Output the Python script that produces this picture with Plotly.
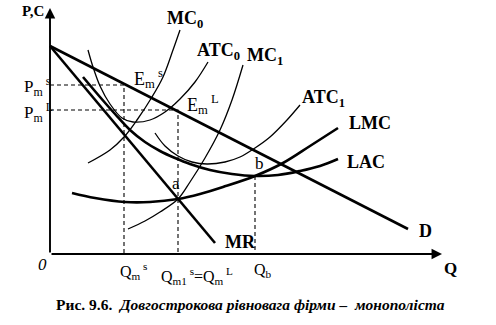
import plotly.graph_objects as go

# Long-run equilibrium of a monopoly firm (schematic cost/revenue curves)
# Units: Q along the horizontal axis, P/C along the vertical axis.

demand_q = [0.0, 35.8]
demand_p = [20.8, 2.5]

mr_q = [0.0, 16.5]
mr_p = [20.8, 1.1]

mc0_q = [3.8, 6.0, 7.4, 8.7, 10.2, 11.3, 12.3, 13.0]
mc0_p = [9.1, 10.4, 11.7, 13.4, 15.7, 17.7, 20.4, 22.4]

atc0_q = [3.8, 4.3, 5.0, 6.0, 7.2, 8.3, 10.0, 11.5, 13.0, 14.5, 15.8]
atc0_p = [20.4, 18.7, 16.8, 15.0, 13.6, 13.2, 13.4, 14.2, 15.5, 17.2, 19.2]

mc1_q = [7.8, 9.5, 11.0, 12.8, 14.0, 15.5, 17.0, 18.2, 19.3]
mc1_p = [2.5, 3.3, 4.2, 5.5, 7.2, 9.6, 12.4, 15.4, 18.9]

atc1_q = [10.5, 11.5, 12.8, 14.2, 15.7, 17.5, 19.0, 20.5, 22.0, 23.7, 25.0]
atc1_p = [12.1, 10.8, 9.8, 9.2, 9.0, 9.2, 9.7, 10.6, 11.7, 13.4, 14.9]

lac_q = [3.3, 5.0, 6.5, 8.0, 9.5, 11.0, 12.5, 14.0, 16.0, 18.2, 20.5, 22.8, 25.0, 27.0, 28.8]
lac_p = [17.7, 15.7, 14.0, 12.4, 11.2, 10.3, 9.6, 9.0, 8.4, 8.0, 7.8, 7.9, 8.3, 8.8, 9.5]

lmc_q = [2.2, 4.5, 7.5, 10.0, 12.8, 15.0, 17.3, 20.5, 23.3, 26.0, 28.8]
lmc_p = [6.1, 5.6, 5.2, 5.2, 5.5, 6.0, 6.7, 7.8, 9.1, 10.8, 12.6]

# equilibrium quantities and prices
q_ms, p_ms = 7.4, 16.9     # short-run monopoly optimum
q_ml, p_ml = 12.8, 14.4    # long-run monopoly optimum
q_b, p_b = 20.5, 7.8       # minimum of LAC
p_a = 5.5                  # LMC = MC1 = MR

q_max, p_max = 39.2, 24.6  # axis arrow tips

FONT = "Liberation Serif"
INK = "black"

fig = go.Figure()


def curve(q, p, width, dash=None, spline=True):
    fig.add_trace(go.Scatter(
        x=q, y=p, mode="lines", hoverinfo="skip", showlegend=False,
        line=dict(color=INK, width=width, dash=dash,
                  shape="spline" if spline else "linear", smoothing=1.0),
    ))


# dashed guide lines
guide = "4px,3px"
curve([0, q_ms, q_ms], [p_ms, p_ms, 0], 1.1, guide, spline=False)
curve([0, q_ml, q_ml], [p_ml, p_ml, 0], 1.1, guide, spline=False)
curve([q_b, q_b], [p_b, 0], 1.1, guide, spline=False)

# thin short-run curves
curve(mc0_q, mc0_p, 1.3)
curve(atc0_q, atc0_p, 1.3)
curve(mc1_q, mc1_p, 1.3)
curve(atc1_q, atc1_p, 1.3)

# thick long-run curves, demand and marginal revenue
curve(lac_q, lac_p, 2.6)
curve(lmc_q, lmc_p, 2.6)
curve(demand_q, demand_p, 2.6, spline=False)
curve(mr_q, mr_p, 2.6, spline=False)

annotations = []

# axes with arrow heads
for (x0, y0, x1, y1) in [(0, 0, q_max, 0), (0, 0, 0, p_max)]:
    annotations.append(dict(
        x=x1, y=y1, ax=x0, ay=y0, xref="x", yref="y", axref="x", ayref="y",
        text="", showarrow=True, arrowhead=2, arrowsize=1.1, arrowwidth=1.9,
        arrowcolor=INK, standoff=0, startstandoff=0,
    ))


def label(x, y, text, size=18, anchor="left"):
    annotations.append(dict(
        x=x, y=y, xref="x", yref="y", text=text, showarrow=False,
        xanchor=anchor, yanchor="middle",
        font=dict(family=FONT, size=size, color=INK),
    ))


label(-3.0, 24.3, "<b>P,C</b>", 15)
label(-1.4, -1.0, "<i>0</i>", 17)
label(39.2, -1.4, "<b>Q</b>", 17)

label(11.5, 23.5, "<b>MC<sub>0</sub></b>")
label(14.5, 20.3, "<b>ATC<sub>0</sub></b>")
label(19.5, 19.8, "<b>MC<sub>1</sub></b>")
label(25.0, 15.6, "<b>ATC<sub>1</sub></b>")
label(29.7, 13.1, "<b>LMC</b>")
label(29.5, 9.2, "<b>LAC</b>")
label(17.3, 1.2, "<b>MR</b>")
label(36.7, 2.3, "<b>D</b>")

label(8.2, 17.6, "E<sub>m</sub><sup> s</sup>", 18)
label(13.5, 15.0, "E<sub>m</sub><sup> L</sup>", 18)
label(12.0, 7.1, "a", 17)
label(20.3, 9.1, "b", 17)

label(-2.8, 16.8, "P<sub>m</sub><sup> s</sup>", 17)
label(-2.8, 14.2, "P<sub>m</sub><sup> L</sup>", 17)

label(6.8, -1.7, "Q<sub>m</sub><sup> s</sup>", 16)
label(10.9, -2.2, "Q<sub>m1</sub><sup> s</sup>=Q<sub>m</sub><sup> L</sup>", 16)
label(20.2, -1.6, "Q<sub>b</sub>", 16)

annotations.append(dict(
    x=0.506, y=-5.0, xref="paper", yref="y", showarrow=False,
    xanchor="center", yanchor="middle",
    text="<b>Рис. 9.6.  <i>Довгострокова рівновага фірми –  монополіста</i></b>",
    font=dict(family=FONT, size=15.5, color=INK),
))

fig.update_layout(
    width=496, height=325,
    margin=dict(l=0, r=0, t=0, b=0),
    paper_bgcolor="white", plot_bgcolor="white",
    xaxis=dict(range=[-5.0, 44.6], visible=False, fixedrange=True),
    yaxis=dict(range=[-7.1, 25.4], visible=False, fixedrange=True),
    annotations=annotations,
    showlegend=False,
)

fig.write_html("out.html")
